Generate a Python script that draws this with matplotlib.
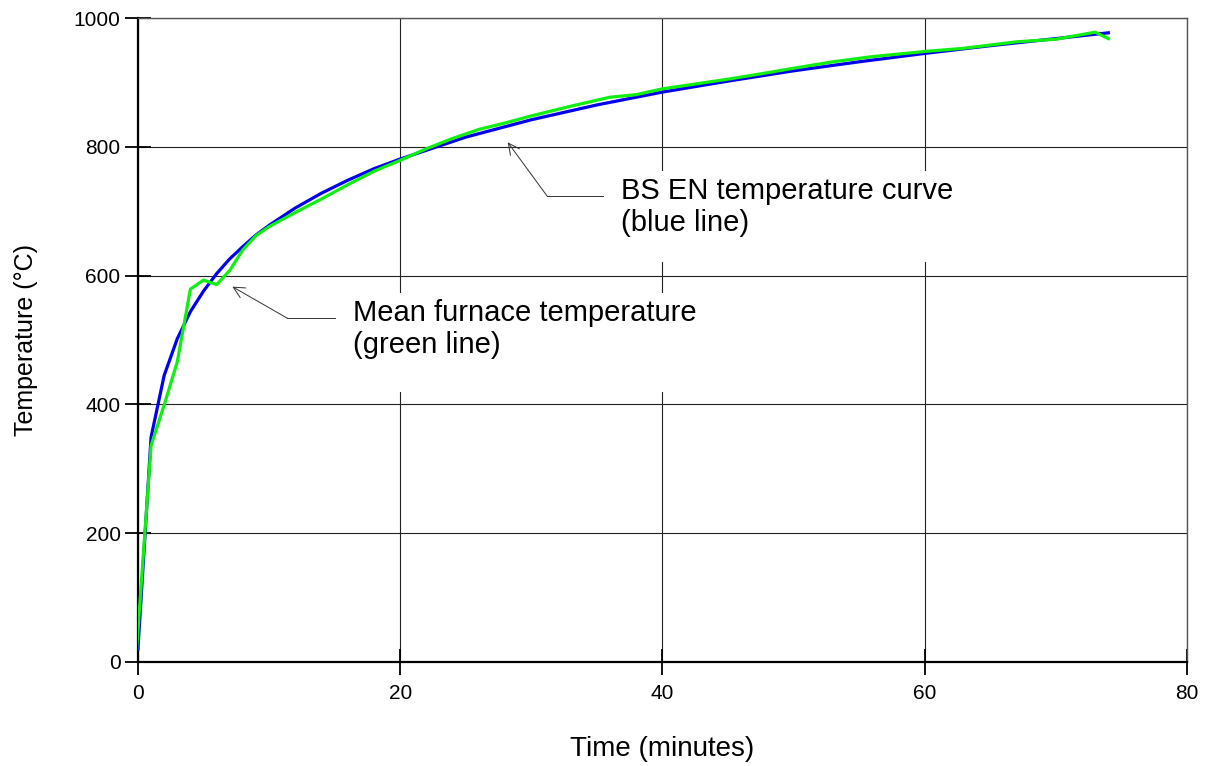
import matplotlib.pyplot as plt
from matplotlib.patches import Rectangle

plt.rcParams["font.family"] = ["Liberation Sans", "DejaVu Sans"]

# BS EN standard curve
bs_time = [0, 1, 2, 3, 4, 5, 6, 7, 8, 9, 10, 12, 14, 16, 18, 20, 25, 30,
           35, 40, 45, 50, 55, 60, 65, 70, 74]
bs_temp = [20, 349, 445, 502, 544, 576, 603, 626, 645, 663, 678, 705, 728,
           748, 766, 781, 815, 842, 865, 885, 902, 918, 932, 945, 957, 968, 977]

# mean furnace temperature
furn_time = [-0.1, 1, 2, 3, 4, 5, 6, 7, 8, 9, 10, 12, 14, 16, 18, 20, 22, 24,
             26, 28, 30, 33, 36, 38, 40, 42, 45, 48, 50, 53, 56, 60, 63, 67,
             70, 73, 74]
furn_temp = [20, 336, 399, 466, 579, 593, 586, 608, 640, 662, 676, 698, 719,
             741, 762, 779, 797, 813, 827, 837, 848, 863, 877, 881, 890, 896,
             905, 915, 922, 932, 940, 948, 953, 963, 967, 978, 968]

fig = plt.figure(figsize=(12.1, 7.66), dpi=100)
ax = fig.add_axes([0.114, 0.1358, 0.867, 0.8407])

ax.plot(bs_time, bs_temp, color="#0000ee", lw=2.3, zorder=3)
ax.plot(furn_time, furn_temp, color="#11ee11", lw=2.3, zorder=4)

ax.set_xlim(0, 80)
ax.set_ylim(0, 1000)
ax.set_xticks([0, 20, 40, 60, 80])
ax.set_yticks([0, 200, 400, 600, 800, 1000])
ax.grid(True, color="#222222", lw=0.8)
ax.set_axisbelow(True)

for side in ["left", "bottom"]:
    ax.spines[side].set_linewidth(1.6)
    ax.spines[side].set_color("black")
for side in ["top", "right"]:
    ax.spines[side].set_linewidth(1.0)
    ax.spines[side].set_color("#555555")

ax.tick_params(direction="inout", length=19, width=1.3, labelsize=15)
ax.tick_params(axis="x", pad=6)
ax.tick_params(axis="y", pad=3)
ax.set_xlabel("Time (minutes)", fontsize=20, labelpad=24)
ax.set_ylabel("Temperature (\u00b0C)", fontsize=18, labelpad=26)

# white label boxes that blank out the grid behind the notes
ax.add_patch(Rectangle((0.1907, 0.4193), 0.364, 0.154, transform=ax.transAxes,
                       facecolor="white", edgecolor="none", zorder=1))
ax.add_patch(Rectangle((0.446, 0.621), 0.323, 0.141, transform=ax.transAxes,
                       facecolor="white", edgecolor="none", zorder=1))

ax.text(0.2047, 0.517, "Mean furnace temperature\n(green line)", fontsize=21,
        transform=ax.transAxes, ha="left", va="center", zorder=5)
ax.text(0.4602, 0.7065, "BS EN temperature curve\n(blue line)", fontsize=21,
        transform=ax.transAxes, ha="left", va="center", zorder=5)

# leader lines: horizontal run, then arrow to the curve
lead = dict(color="#333333", lw=0.7, zorder=5)
arrow = dict(arrowstyle="->", color="#333333", lw=0.7, shrinkA=0, shrinkB=0,
             mutation_scale=20)
ax.plot([15.04, 11.4], [533.7, 533.7], **lead)
ax.annotate("", xy=(7.2, 582.8), xytext=(11.4, 533.7), arrowprops=arrow, zorder=5)
ax.plot([35.5, 31.2], [723.6, 723.6], **lead)
ax.annotate("", xy=(28.2, 807), xytext=(31.2, 723.6), arrowprops=arrow, zorder=5)

fig.savefig("out.png", dpi=100)
